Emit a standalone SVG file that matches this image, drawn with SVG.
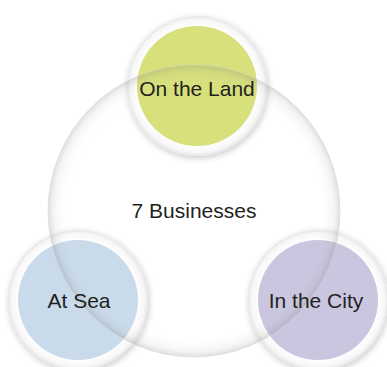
<svg xmlns="http://www.w3.org/2000/svg" width="387" height="367" viewBox="0 0 387 367">
<defs>
<filter id="sh" x="-30%" y="-30%" width="160%" height="160%">
<feGaussianBlur in="SourceAlpha" stdDeviation="3"/>
<feOffset dx="1" dy="2" result="b"/>
<feFlood flood-color="#000" flood-opacity="0.22"/>
<feComposite in2="b" operator="in"/>
<feMerge><feMergeNode/><feMergeNode in="SourceGraphic"/></feMerge>
</filter>
<radialGradient id="big" cx="0.5" cy="0.5" r="0.5">
<stop offset="0" stop-color="#ffffff" stop-opacity="0"/>
<stop offset="0.86" stop-color="#ffffff" stop-opacity="0"/>
<stop offset="0.96" stop-color="#8a8a8a" stop-opacity="0.09"/>
<stop offset="1" stop-color="#6d6d6d" stop-opacity="0.22"/>
</radialGradient>
<radialGradient id="ring" cx="0.5" cy="0.5" r="0.5">
<stop offset="0.85" stop-color="#ffffff"/>
<stop offset="0.95" stop-color="#f7f7f7"/>
<stop offset="1" stop-color="#e6e6e6"/>
</radialGradient>
<style>
.t{font-family:"Liberation Sans",Arial,sans-serif;font-size:21px;fill:#231f20;text-anchor:middle;dominant-baseline:central}
</style>
</defs>
<rect width="387" height="367" fill="#ffffff"/>
<g id="land">
<circle cx="197" cy="86" r="70" fill="url(#ring)" filter="url(#sh)"/>
<circle cx="197" cy="86" r="60" fill="#d7e07b"/>
</g>
<g id="sea">
<circle cx="78" cy="300" r="70" fill="url(#ring)" filter="url(#sh)"/>
<circle cx="78" cy="300" r="60" fill="#c9dbeb"/>
</g>
<g id="city">
<circle cx="318" cy="300" r="70" fill="url(#ring)" filter="url(#sh)"/>
<circle cx="318" cy="300" r="60" fill="#cbc6e0"/>
</g>
<g id="center">
<circle cx="194" cy="211" r="146" fill="url(#big)"/>
<circle cx="194" cy="211" r="146" fill="none" stroke="#d4d4d4" stroke-width="1" stroke-opacity="0.5"/>
</g>
<g id="connectors"></g>
<g id="labels">
<text class="t" x="197" y="88">On the Land</text>
<text class="t" x="194" y="210">7 Businesses</text>
<text class="t" x="79" y="300">At Sea</text>
<text class="t" x="316" y="300">In the City</text>
</g>
</svg>
